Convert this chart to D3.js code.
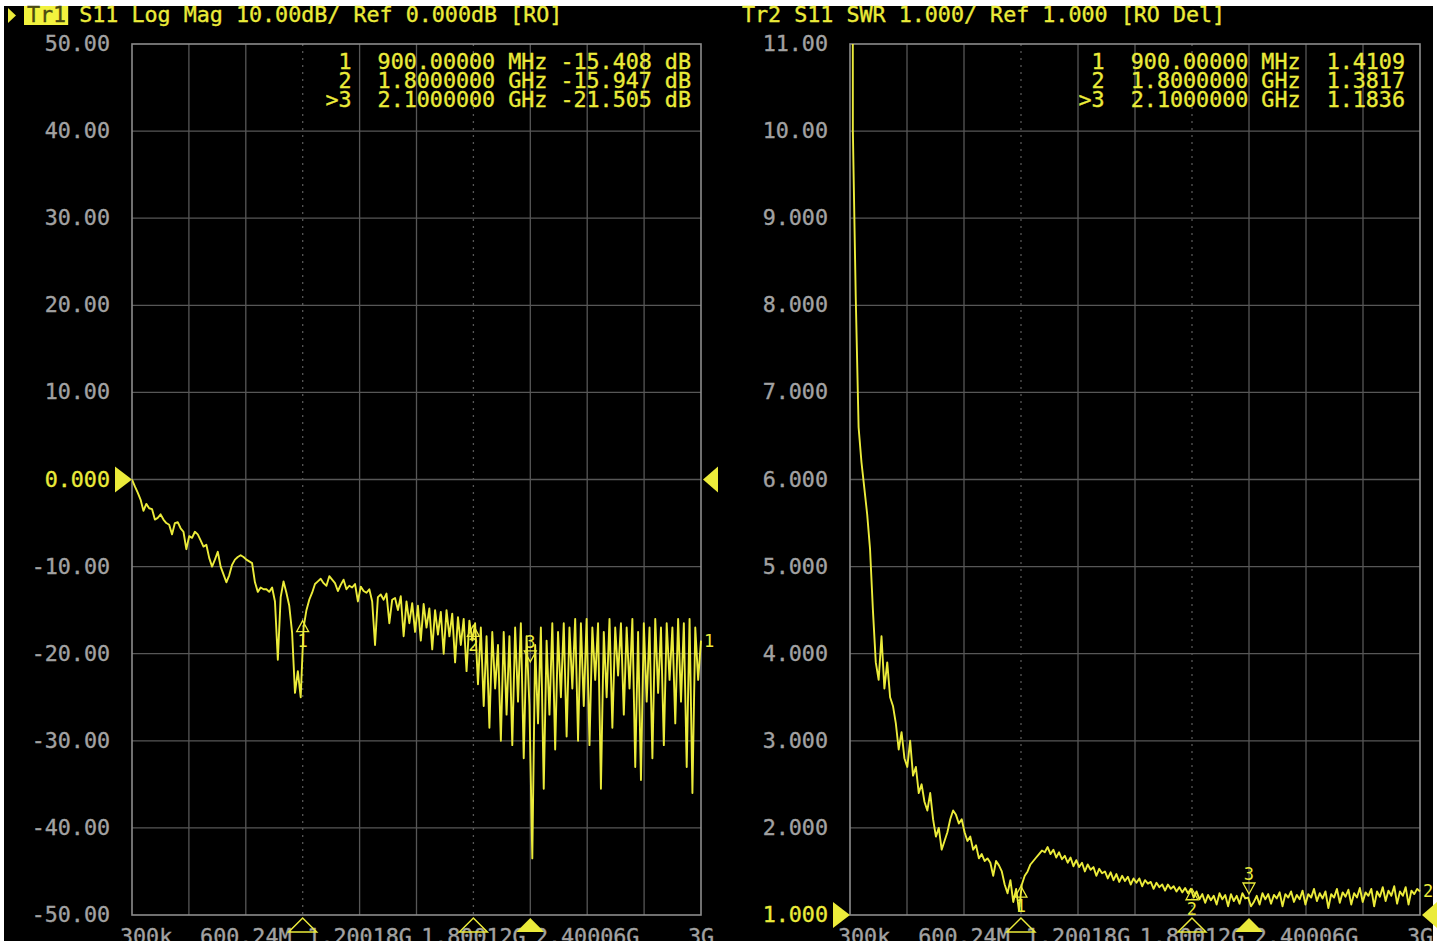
<!DOCTYPE html>
<html>
<head>
<meta charset="utf-8">
<script src="https://cdn.jsdelivr.net/npm/d3@7"></script>
<style>
body{margin:0;background:#fff;}
svg{display:block;}
text{font-family:"DejaVu Sans Mono",monospace;white-space:pre;stroke-width:0.35px;}
</style>
</head>
<body>
<script>
// sweep 300 kHz .. 3 GHz, 200 points
const startHz = 0.3e6, stopHz = 3000e6;

const logMag = [
  0.0, -0.8, -1.5, -2.3, -3.6, -2.8, -3.3, -3.4, -4.6, -4.4,
  -4.0, -4.6, -5.0, -5.2, -6.3, -5.0, -4.9, -5.6, -6.0, -8.0,
  -6.5, -6.7, -6.0, -6.3, -7.0, -7.7, -7.5, -9.0, -10.0, -9.2,
  -8.3, -10.0, -10.9, -11.8, -11.0, -9.8, -9.2, -8.9, -8.7, -8.9,
  -9.2, -9.4, -9.6, -11.8, -12.9, -12.4, -12.6, -12.6, -12.9, -12.4,
  -14.0, -20.7, -13.5, -11.7, -13.0, -14.5, -17.6, -24.5, -22.0, -25.0,
  -17.0, -15.0, -13.8, -13.0, -12.0, -11.7, -11.4, -11.9, -12.2, -11.1,
  -11.5, -11.9, -12.8, -12.1, -11.5, -12.6, -12.2, -12.4, -12.0, -14.0,
  -12.3, -12.8, -13.0, -12.6, -14.0, -19.0, -13.5, -13.2, -13.8, -13.1,
  -16.5, -13.8, -13.6, -15.0, -13.4, -18.0, -14.0, -16.5, -14.2, -17.5,
  -14.5, -18.5, -14.3, -17.0, -14.8, -19.5, -15.0, -17.8, -15.2, -20.0,
  -15.0, -18.0, -15.4, -21.0, -15.8, -19.0, -16.0, -22.0, -16.2, -18.5,
  -16.5, -23.5, -17.0, -26.0, -18.0, -28.5, -17.5, -24.0, -19.0, -30.0,
  -17.5, -27.0, -18.0, -30.5, -17.0, -25.5, -16.5, -32.0, -18.0, -26.0,
  -43.5, -19.0, -28.0, -17.0, -35.5, -18.5, -27.0, -16.5, -31.0, -17.5,
  -25.0, -16.5, -29.5, -17.0, -24.0, -16.0, -30.0, -16.5, -26.0, -16.0,
  -30.5, -17.0, -23.0, -16.5, -35.5, -17.5, -25.0, -16.0, -28.5, -17.0,
  -22.5, -16.5, -27.0, -17.0, -24.0, -16.0, -33.0, -17.5, -34.5, -16.5,
  -25.5, -17.0, -32.0, -16.0, -24.5, -17.0, -30.5, -16.5, -23.0, -17.0,
  -28.0, -16.0, -25.5, -16.5, -33.0, -16.0, -36.0, -17.0, -23.0, -18.5
];

const swr = [
  60, 10.0, 8.1, 6.6, 6.2, 5.9, 5.6, 5.2, 4.5, 3.9,
  3.7, 4.2, 3.6, 3.9, 3.5, 3.4, 3.2, 2.9, 3.1, 2.8,
  2.7, 3.0, 2.6, 2.7, 2.4, 2.5, 2.3, 2.2, 2.4, 2.1,
  1.9, 2.0, 1.75, 1.85, 1.95, 2.1, 2.2, 2.15, 2.05, 2.1,
  1.95, 1.85, 1.9, 1.75, 1.8, 1.65, 1.7, 1.62, 1.65, 1.6,
  1.45, 1.62, 1.57, 1.5, 1.35, 1.25, 1.4, 1.15, 1.3, 1.05,
  1.35, 1.45, 1.5, 1.58, 1.62, 1.66, 1.7, 1.74, 1.72, 1.78,
  1.7, 1.75, 1.66, 1.72, 1.64, 1.68, 1.6, 1.66, 1.56, 1.63,
  1.55, 1.6, 1.5, 1.58, 1.52, 1.55, 1.45, 1.53, 1.48, 1.5,
  1.42, 1.49, 1.4, 1.47, 1.38, 1.45, 1.39, 1.44, 1.35, 1.42,
  1.37, 1.42, 1.33, 1.4, 1.36, 1.38, 1.3, 1.37, 1.32, 1.35,
  1.28, 1.35, 1.3, 1.33, 1.27, 1.32, 1.26, 1.31, 1.25, 1.3,
  1.2, 1.27, 1.18, 1.24, 1.14, 1.23, 1.17, 1.22, 1.12, 1.25,
  1.18, 1.23, 1.1, 1.24, 1.16, 1.22, 1.13, 1.25, 1.19, 1.2,
  1.1, 1.15, 1.22, 1.12, 1.25, 1.18, 1.24, 1.13, 1.23, 1.19,
  1.26, 1.1, 1.24, 1.2, 1.27, 1.15, 1.23, 1.18, 1.28, 1.12,
  1.24, 1.2, 1.3, 1.16, 1.25, 1.19, 1.27, 1.08, 1.24, 1.2,
  1.3, 1.14, 1.26, 1.21, 1.29, 1.12, 1.25, 1.2, 1.31, 1.15,
  1.26, 1.22, 1.3, 1.1, 1.27, 1.21, 1.32, 1.16, 1.28, 1.22,
  1.33, 1.13, 1.27, 1.22, 1.32, 1.12, 1.28, 1.24, 1.3, 1.27
];

const yTicksL = [50, 40, 30, 20, 10, 0, -10, -20, -30, -40, -50];
const yLabelsL = ["50.00", "40.00", "30.00", "20.00", "10.00", "0.000", "-10.00", "-20.00", "-30.00", "-40.00", "-50.00"];
const yTicksR = [11, 10, 9, 8, 7, 6, 5, 4, 3, 2, 1];
const yLabelsR = ["11.00", "10.00", "9.000", "8.000", "7.000", "6.000", "5.000", "4.000", "3.000", "2.000", "1.000"];
const xTicks = [0.3e6, 600.24e6, 1200.18e6, 1800.12e6, 2400.06e6, 3000e6];
const xLabels = ["300k", "600.24M", "1.20018G", "1.80012G", "2.40006G", "3G"];

const markerHz = [900e6, 1800e6, 2100e6];
const markerL = [-15.408, -15.947, -21.505];
const markerR = [1.4109, 1.3817, 1.1836];
const tableL = [" 1  900.00000 MHz -15.408 dB", " 2  1.8000000 GHz -15.947 dB", ">3  2.1000000 GHz -21.505 dB"];
const tableR = [" 1  900.00000 MHz  1.4109", " 2  1.8000000 GHz  1.3817", ">3  2.1000000 GHz  1.1836"];

const YEL = "#ebeb3a", GRID = "#575757", FRAME = "#8c8c8c", LAB = "#a2a2a2";
const FS = 21.7;
const freqs = d3.range(logMag.length).map(i => startHz + i * (stopHz - startHz) / (logMag.length - 1));

const svg = d3.select("body").append("svg").attr("width", 1446).attr("height", 941);
svg.append("rect").attr("x", 4).attr("y", 6).attr("width", 1429).attr("height", 935).attr("fill", "#000");

function panel(o) {
  const x = d3.scaleLinear().domain([startHz, stopHz]).range([o.left, o.right]);
  const y = d3.scaleLinear().domain(o.domain).range([915, 44]);
  const g = svg.append("g");

  // grid
  const divs = d3.range(11).map(i => startHz + i * (stopHz - startHz) / 10);
  g.selectAll(".vg").data(divs.slice(1, 10)).enter().append("line")
    .attr("x1", d => x(d)).attr("x2", d => x(d)).attr("y1", 44).attr("y2", 915)
    .attr("stroke", GRID).attr("stroke-width", 1.3)
    .attr("stroke-dasharray", d => (Math.abs(d - markerHz[0]) < 5e6 || Math.abs(d - markerHz[1]) < 5e6) ? "2,5" : null);
  g.selectAll(".hg").data(o.ticks.slice(1, 10)).enter().append("line")
    .attr("x1", o.left).attr("x2", o.right).attr("y1", d => y(d)).attr("y2", d => y(d))
    .attr("stroke", GRID).attr("stroke-width", 1.3);
  g.append("rect").attr("x", o.left).attr("y", 44).attr("width", o.right - o.left).attr("height", 871)
    .attr("fill", "none").attr("stroke", FRAME).attr("stroke-width", 1.6);

  // y labels
  g.selectAll(".yl").data(o.ticks).enter().append("text")
    .attr("x", o.left - 22).attr("y", d => y(d) + 7)
    .attr("text-anchor", "end").attr("font-size", FS)
    .attr("fill", d => d === o.ref ? YEL : LAB).attr("stroke", d => d === o.ref ? YEL : LAB)
    .text((d, i) => o.labels[i]);

  // x labels
  g.selectAll(".xl").data(xTicks).enter().append("text")
    .attr("x", (d, i) => i === 0 ? x(d) - 12 : x(d))
    .attr("y", 944)
    .attr("text-anchor", (d, i) => i === 0 ? "start" : "middle")
    .attr("font-size", FS).attr("fill", LAB).attr("stroke", LAB)
    .text((d, i) => xLabels[i]);

  // header
  const hd = g.append("text").attr("x", o.hx).attr("y", 22).attr("font-size", FS)
    .attr("fill", YEL).attr("stroke", YEL);
  if (o.active) {
    g.insert("rect", "text").attr("x", o.hx - 3).attr("y", 6).attr("width", 3 * FS * 0.602 + 5).attr("height", 19).attr("fill", "#f2f23e");
    g.append("path").attr("d", "M8,8 L16,15.5 L8,23 Z").attr("fill", YEL);
    hd.append("tspan").attr("fill", "#4a4a10").attr("stroke", "#4a4a10").text(o.header.slice(0, 3));
    hd.append("tspan").text(o.header.slice(3));
  } else {
    hd.text(o.header);
  }

  // marker table
  g.selectAll(".tb").data(o.table).enter().append("text")
    .attr("x", o.tableX).attr("y", (d, i) => 69 + i * 19)
    .attr("text-anchor", "end").attr("font-size", FS).attr("fill", YEL).attr("stroke", YEL)
    .text(d => d);

  // trace
  const cid = "clip" + o.left;
  svg.append("clipPath").attr("id", cid).append("rect")
    .attr("x", o.left).attr("y", 44).attr("width", o.right - o.left + 2).attr("height", 872);
  const line = d3.line().x((d, i) => x(freqs[i])).y(d => y(d));
  g.append("path").datum(o.data).attr("clip-path", "url(#" + cid + ")")
    .attr("d", line).attr("fill", "none").attr("stroke", YEL).attr("stroke-width", 1.9)
    .attr("stroke-linejoin", "round");

  // trace number at the end
  g.append("text").attr("x", x(stopHz) + 3).attr("y", y(o.data[o.data.length - 1]) + 6)
    .attr("font-size", 17).attr("fill", YEL).text(o.num);

  // reference arrows
  const ry = y(o.ref);
  g.append("path").attr("d", `M${o.left - 17},${ry - 13} L${o.left},${ry} L${o.left - 17},${ry + 13} Z`).attr("fill", YEL);
  g.append("path").attr("d", `M${o.right + 2},${ry} L${o.right + 17},${ry - 13} L${o.right + 17},${ry + 13} Z`).attr("fill", YEL);

  // markers on trace and on the x axis
  markerHz.forEach((f, k) => {
    const mx = x(f), my = y(o.marks[k]);
    if (k === 2) {
      g.append("path").attr("d", `M${mx - 6},${my - 16} L${mx + 6},${my - 16} L${mx},${my - 5} Z`)
        .attr("fill", "none").attr("stroke", YEL).attr("stroke-width", 1.3);
      g.append("text").attr("x", mx).attr("y", my - 19).attr("text-anchor", "middle")
        .attr("font-size", 17).attr("fill", YEL).text(k + 1);
      g.append("path").attr("d", `M${mx - 14},932 L${mx + 14},932 L${mx},918 Z`).attr("fill", YEL);
    } else {
      g.append("path").attr("d", `M${mx},${my + 7} L${mx + 6},${my + 18} L${mx - 6},${my + 18} Z`)
        .attr("fill", "none").attr("stroke", YEL).attr("stroke-width", 1.3);
      g.append("text").attr("x", mx).attr("y", my + 33).attr("text-anchor", "middle")
        .attr("font-size", 17).attr("fill", YEL).text(k + 1);
      g.append("path").attr("d", `M${mx - 14},932 L${mx + 14},932 L${mx},918 Z`)
        .attr("fill", "none").attr("stroke", YEL).attr("stroke-width", 1.5);
    }
  });
}

panel({
  left: 132, right: 701, domain: [-50, 50], ref: 0,
  ticks: yTicksL, labels: yLabelsL, data: logMag, marks: markerL,
  hx: 27, header: "Tr1 S11 Log Mag 10.00dB/ Ref 0.000dB [RO]", active: true,
  tableX: 691, table: tableL, num: "1"
});
panel({
  left: 850, right: 1420, domain: [1, 11], ref: 1,
  ticks: yTicksR, labels: yLabelsR, data: swr, marks: markerR,
  hx: 742, header: "Tr2 S11 SWR 1.000/ Ref 1.000 [RO Del]", active: false,
  tableX: 1405, table: tableR, num: "2"
});
</script>
</body>
</html>
